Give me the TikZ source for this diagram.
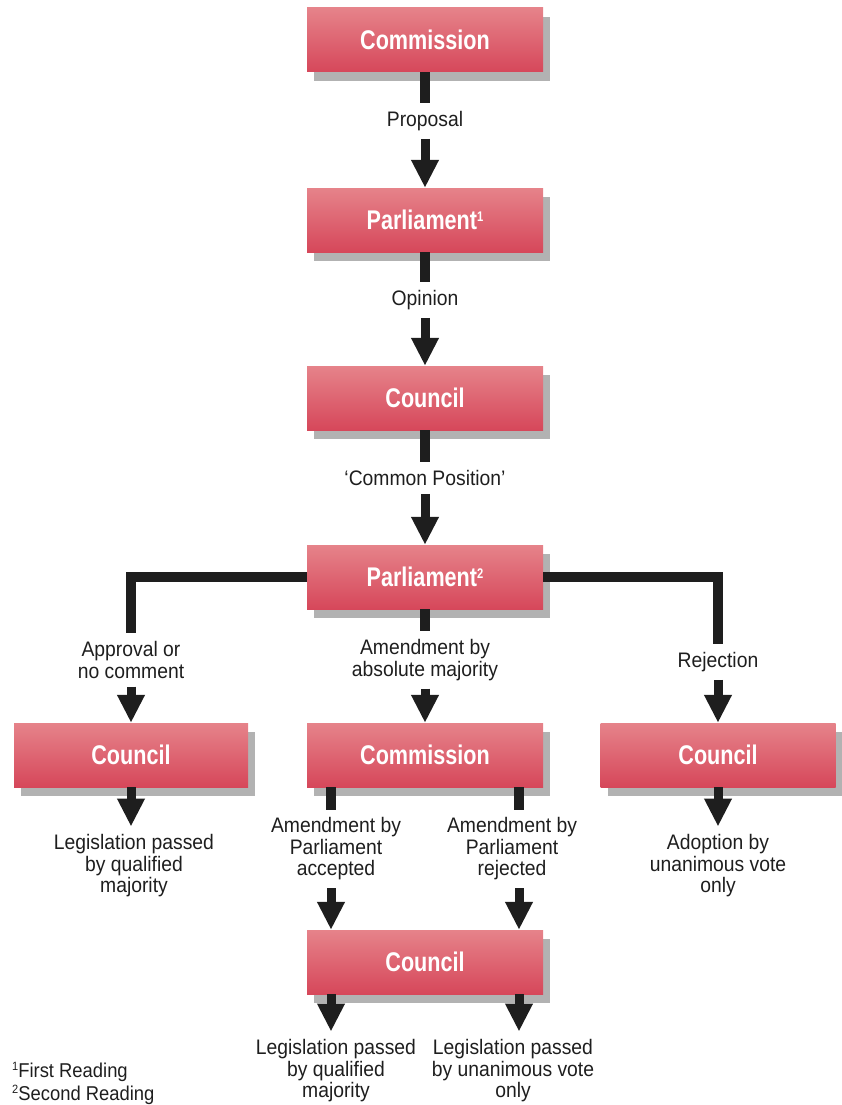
\documentclass[tikz,border=0pt]{standalone}
\usepackage{fontspec}
\setmainfont{Liberation Sans}[FakeStretch=0.92]
\newfontfamily\boxfont{Liberation Sans}[FakeStretch=0.8]
\usetikzlibrary{arrows.meta,shadows}
\definecolor{boxtop}{HTML}{E6838A}
\definecolor{boxbot}{HTML}{D6475A}
\definecolor{ink}{HTML}{1E1E1E}
\begin{document}
\begin{tikzpicture}[x=1pt, y=-1pt,
  box/.style={rectangle, minimum width=236pt, minimum height=64pt, top color=boxtop, bottom color=boxbot, text=white,
    font=\boxfont\bfseries\fontsize{27}{27}\selectfont, drop shadow={shadow xshift=7pt, shadow yshift=-9pt, fill=black!60, opacity=0.5}},
  lab/.style={align=center, inner sep=8pt, text=ink, font=\fontsize{21}{21.5}\selectfont},
  stem/.style={ink, line width=10pt},
  arr/.style={ink, line width=9pt, -{Triangle[width=26pt, length=28pt]}}]
\useasboundingbox (0,0) rectangle (841,1105);
\node[box] (box0) at (425,40) {Commission};
\node[box] (box1) at (425,220) {Parliament{\fontsize{14}{14}\selectfont\raisebox{8pt}{1}}};
\node[box] (box2) at (425,398) {Council};
\node[box] (box3) at (425,577) {Parliament{\fontsize{14}{14}\selectfont\raisebox{8pt}{2}}};
\node[box, minimum width=234pt] (box4) at (131,755) {Council};
\node[box] (box5) at (425,755) {Commission};
\node[box, minimum width=235pt] (box6) at (718,755) {Council};
\node[box] (box7) at (425,962) {Council};
\node[lab] (lab0) at (425,121) {Proposal};
\node[lab] (lab1) at (425,300) {Opinion};
\node[lab] (lab2) at (425,478) {‘Common Position’};
\node[lab] (lab3) at (131,660) {Approval or\\no comment};
\node[lab] (lab4) at (425,660) {Amendment by\\absolute majority};
\node[lab] (lab5) at (718,662) {Rejection};
\node[lab] (lab6) at (134,866) {Legislation passed\\by qualified\\majority};
\node[lab] (lab7) at (336,849) {Amendment by\\Parliament\\accepted};
\node[lab] (lab8) at (512,849) {Amendment by\\Parliament\\rejected};
\node[lab] (lab9) at (718,866) {Adoption by\\unanimous vote\\only};
\node[lab] (lab10) at (336,1071) {Legislation passed\\by qualified\\majority};
\node[lab] (lab11) at (513,1071) {Legislation passed\\by unanimous vote\\only};
\node[lab, align=left, anchor=west, inner sep=0pt, font=\fontsize{20}{23}\selectfont] (lab12) at (12,1083) {{\fontsize{12}{12}\selectfont\raisebox{7pt}{1}}First Reading\\{\fontsize{12}{12}\selectfont\raisebox{7pt}{2}}Second Reading};
\coordinate (st0) at (331,0);
\coordinate (st1) at (519,0);
\draw[stem] (box0) -- (lab0);
\draw[arr] (lab0) -- (box1);
\draw[stem] (box1) -- (lab1);
\draw[arr] (lab1) -- (box2);
\draw[stem] (box2) -- (lab2);
\draw[arr] (lab2) -- (box3);
\draw[stem] (box3.west) -| (lab3);
\draw[stem] (box3) -- (lab4);
\draw[stem] (box3.east) -| (lab5);
\draw[arr] (lab3) -- (box4);
\draw[arr] (lab4) -- (box5);
\draw[arr] (lab5) -- (box6);
\draw[arr] (box4.south) -- (box4.south |- lab6.north);
\draw[arr] (box6.south) -- (box6.south |- lab9.north);
\draw[stem] (box5.south -| st0) -- (lab7.north -| st0);
\draw[stem] (box5.south -| st1) -- (lab8.north -| st1);
\draw[arr] (lab7.south -| st0) -- (box7.north -| st0);
\draw[arr] (lab8.south -| st1) -- (box7.north -| st1);
\draw[arr] (box7.south -| st0) -- (lab10.north -| st0);
\draw[arr] (box7.south -| st1) -- (lab11.north -| st1);
\end{tikzpicture}
\end{document}
